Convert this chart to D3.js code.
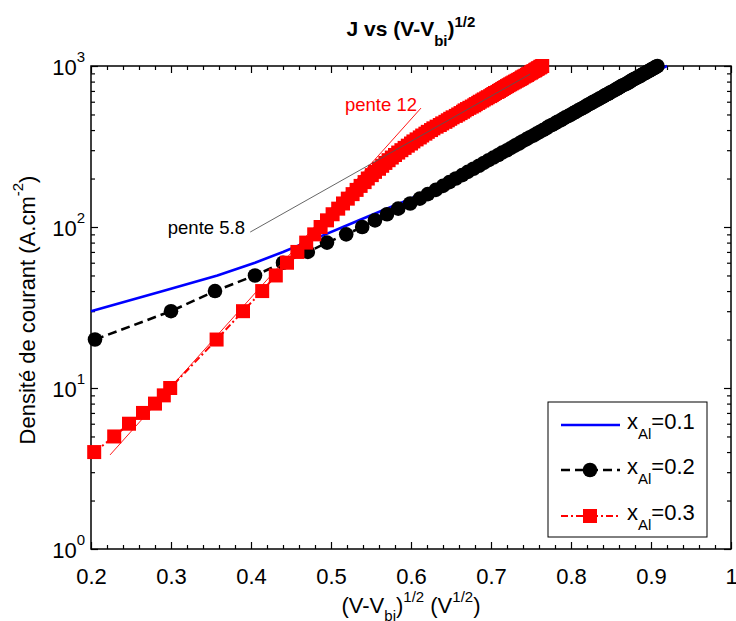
<!DOCTYPE html>
<html>
<head>
<meta charset="utf-8">
<script src="https://cdn.jsdelivr.net/npm/d3@7/dist/d3.min.js"></script>
<style>
  html, body { margin: 0; padding: 0; background: #fff; }
  svg text { font-family: "Liberation Sans", Arial, sans-serif; }
</style>
</head>
<body>
<script>
// ---------------- DATA ----------------
const xTickValues = [0.2, 0.3, 0.4, 0.5, 0.6, 0.7, 0.8, 0.9, 1.0];
const xTickLabels = ["0.2", "0.3", "0.4", "0.5", "0.6", "0.7", "0.8", "0.9", "1"];
const yTickValues = [1, 10, 100, 1000];
const yTickExponents = ["0", "1", "2", "3"];
const seriesNames = ["0.1", "0.2", "0.3"];

// x_Al = 0.1 (blue line)
const blueJ = [30, 40, 50, 60, 70, 80, 90, 100, 120, 150, 200, 300, 400, 500, 600, 700, 800, 900, 1000];
const blueX = [0.200, 0.290, 0.358, 0.405, 0.440, 0.468, 0.493, 0.515, 0.553, 0.600, 0.650, 0.716, 0.764, 0.801, 0.831, 0.856, 0.879, 0.900, 0.920];

// x_Al = 0.2 (black circles)
const blackJ = [20, 30, 40, 50, 60, 70, 80, 90, 100, 110, 120, 130, 140,
  150, 160, 170, 180, 190, 200, 210, 220, 230, 240, 250, 260, 270, 280, 290,
  300, 310, 320, 330, 340, 350, 360, 370, 380, 390, 400, 410, 420, 430, 440,
  450, 460, 470, 480, 490, 500, 510, 520, 530, 540, 550, 560, 570, 580, 590,
  600, 610, 620, 630, 640, 650, 660, 670, 680, 690, 700, 710, 720, 730, 740,
  750, 760, 770, 780, 790, 800, 810, 820, 830, 840, 850, 860, 870, 880, 890,
  900, 910, 920, 930, 940, 950, 960, 970, 980, 990, 1000];
const blackX = [0.205, 0.300, 0.355, 0.405, 0.440, 0.471, 0.495, 0.519, 0.539, 0.555, 0.570, 0.584, 0.599,
  0.611, 0.621, 0.631, 0.640, 0.648, 0.656, 0.664, 0.671, 0.678, 0.685, 0.691, 0.697, 0.703, 0.709, 0.714,
  0.720, 0.725, 0.730, 0.735, 0.739, 0.744, 0.748, 0.753, 0.757, 0.761, 0.765, 0.769, 0.772, 0.776, 0.780,
  0.783, 0.787, 0.790, 0.793, 0.797, 0.800, 0.803, 0.806, 0.809, 0.812, 0.815, 0.818, 0.820, 0.823, 0.826,
  0.828, 0.831, 0.834, 0.836, 0.839, 0.841, 0.843, 0.846, 0.848, 0.850, 0.853, 0.855, 0.857, 0.859, 0.861,
  0.863, 0.865, 0.868, 0.870, 0.872, 0.874, 0.875, 0.877, 0.879, 0.881, 0.883, 0.885, 0.887, 0.888, 0.890,
  0.892, 0.894, 0.895, 0.897, 0.899, 0.900, 0.902, 0.904, 0.905, 0.907, 0.908];

// x_Al = 0.3 (red squares)
const redJ = [4, 5, 6, 7, 8, 9, 10, 20, 30, 40, 50, 60, 70, 80, 90, 100, 110, 120, 130, 140,
  150, 160, 170, 180, 190, 200, 210, 220, 230, 240, 250, 260, 270, 280, 290,
  300, 310, 320, 330, 340, 350, 360, 370, 380, 390, 400, 410, 420, 430, 440,
  450, 460, 470, 480, 490, 500, 510, 520, 530, 540, 550, 560, 570, 580, 590,
  600, 610, 620, 630, 640, 650, 660, 670, 680, 690, 700, 710, 720, 730, 740,
  750, 760, 770, 780, 790, 800, 810, 820, 830, 840, 850, 860, 870, 880, 890,
  900, 910, 920, 930, 940, 950, 960, 970, 980, 990, 1000];
const redX = [0.204, 0.229, 0.2475, 0.265, 0.280, 0.291, 0.299, 0.357, 0.390, 0.414, 0.431, 0.445, 0.458, 0.469, 0.479, 0.487, 0.495, 0.502, 0.509, 0.515,
  0.521, 0.527, 0.532, 0.537, 0.542, 0.546, 0.551, 0.555, 0.560, 0.564, 0.568, 0.572, 0.576, 0.580, 0.584,
  0.588, 0.592, 0.596, 0.600, 0.603, 0.607, 0.611, 0.614, 0.618, 0.621, 0.625, 0.628, 0.632, 0.636, 0.639,
  0.643, 0.646, 0.649, 0.652, 0.656, 0.659, 0.662, 0.665, 0.667, 0.670, 0.673, 0.676, 0.679, 0.681, 0.684,
  0.686, 0.689, 0.691, 0.694, 0.696, 0.699, 0.701, 0.703, 0.705, 0.708, 0.710, 0.712, 0.714, 0.716, 0.718,
  0.720, 0.722, 0.724, 0.726, 0.728, 0.730, 0.732, 0.734, 0.736, 0.738, 0.739, 0.741, 0.743, 0.745, 0.746,
  0.748, 0.750, 0.751, 0.753, 0.755, 0.756, 0.758, 0.759, 0.761, 0.762, 0.764];

// fit lines ("pente")
const fitGrayX = [0.399, 0.749];
const fitGrayJ = [93, 891];
const fitRedX = [0.2238, 0.6125];
const fitRedJ = [3.84, 548];
const annoGray = { text: "pente 5.8", x: 0.296, J: 91 };
const annoRed = { text: "pente 12", x: 0.5175, J: 525 };

// ---------------- CHART ----------------
const W = 736, H = 621;
const L = 91, R = 731, T = 66, B = 549;
const FONT = 22;

const svg = d3.select("body").append("svg").attr("width", W).attr("height", H);
svg.append("rect").attr("width", W).attr("height", H).attr("fill", "#fff");

const x = d3.scaleLinear().domain([0.2, 1.0]).range([L, R]);
const y = d3.scaleLog().domain([1, 1000]).range([B, T]);

const zip = (xs, ys) => xs.map((v, i) => [v, ys[i]]);
const blue = zip(blueX, blueJ), black = zip(blackX, blackJ), red = zip(redX, redJ);

const line = d3.line().x(d => x(d[0])).y(d => y(d[1]));

// minor tick values
const yMinor = [];
[1, 10, 100].forEach(dec => { for (let k = 2; k <= 9; k++) yMinor.push(dec * k); });
const xMinorVals = [];
for (let k = 0; k < 40; k++) { const v = +(0.2 + 0.02 * k).toFixed(2); if (Math.round(v * 100) % 10 !== 0) xMinorVals.push(v); }

function styleAxis(g) {
  g.select(".domain").remove();
  g.selectAll(".tick line").attr("stroke", "#000").attr("stroke-width", 1.2);
}

// minor ticks
svg.append("g").attr("transform", `translate(0,${B})`)
  .call(d3.axisBottom(x).tickValues(xMinorVals).tickSize(-4).tickSizeOuter(0).tickFormat("")).call(styleAxis);
svg.append("g").attr("transform", `translate(0,${T})`)
  .call(d3.axisTop(x).tickValues(xMinorVals).tickSize(-4).tickSizeOuter(0).tickFormat("")).call(styleAxis);
svg.append("g").attr("transform", `translate(${L},0)`)
  .call(d3.axisLeft(y).tickValues(yMinor).tickSize(-4).tickSizeOuter(0).tickFormat("")).call(styleAxis);
svg.append("g").attr("transform", `translate(${R},0)`)
  .call(d3.axisRight(y).tickValues(yMinor).tickSize(-4).tickSizeOuter(0).tickFormat("")).call(styleAxis);

// major ticks
const gx = svg.append("g").attr("transform", `translate(0,${B})`)
  .call(d3.axisBottom(x).tickValues(xTickValues).tickSize(-7).tickSizeOuter(0).tickPadding(19)
    .tickFormat((d, i) => xTickLabels[i])).call(styleAxis);
gx.selectAll("text").attr("font-size", FONT).attr("fill", "#000").attr("font-family", null);
svg.append("g").attr("transform", `translate(0,${T})`)
  .call(d3.axisTop(x).tickValues(xTickValues).tickSize(-7).tickSizeOuter(0).tickFormat("")).call(styleAxis);
const gy = svg.append("g").attr("transform", `translate(${L},0)`)
  .call(d3.axisLeft(y).tickValues(yTickValues).tickSize(-7).tickSizeOuter(0).tickPadding(6)
    .tickFormat(() => "")).call(styleAxis);
gy.selectAll(".tick text").each(function (d, i) {
  const t = d3.select(this).attr("font-size", FONT).attr("fill", "#000").attr("font-family", null).attr("dy", "0.38em");
  t.append("tspan").text("10");
  t.append("tspan").attr("font-size", 15).attr("dy", -13).text(yTickExponents[i]);
});
svg.append("g").attr("transform", `translate(${R},0)`)
  .call(d3.axisRight(y).tickValues(yTickValues).tickSize(-7).tickSizeOuter(0).tickFormat("")).call(styleAxis);

// frame
svg.append("rect").attr("x", L).attr("y", T).attr("width", R - L).attr("height", B - T)
  .attr("fill", "none").attr("stroke", "#000").attr("stroke-width", 1.5);

// series
svg.append("path").datum(blue).attr("d", line).attr("fill", "none").attr("stroke", "#0000ff").attr("stroke-width", 2.6);

svg.append("path").datum(black).attr("d", line).attr("fill", "none").attr("stroke", "#000")
  .attr("stroke-width", 2.6).attr("stroke-dasharray", "9,5");
svg.append("g").selectAll("circle").data(black).join("circle")
  .attr("cx", d => x(d[0])).attr("cy", d => y(d[1])).attr("r", 7.3).attr("fill", "#000");

svg.append("path").datum(red).attr("d", line).attr("fill", "none").attr("stroke", "#ff0000")
  .attr("stroke-width", 2).attr("stroke-dasharray", "7,3,2,3");
const S = 14;
svg.append("g").selectAll("rect").data(red).join("rect")
  .attr("x", d => x(d[0]) - S / 2).attr("y", d => y(d[1]) - S / 2).attr("width", S).attr("height", S).attr("fill", "#ff0000");

// fit lines
svg.append("path").datum(zip(fitGrayX, fitGrayJ)).attr("d", line).attr("fill", "none").attr("stroke", "#555").attr("stroke-width", 0.9);
svg.append("path").datum(zip(fitRedX, fitRedJ)).attr("d", line).attr("fill", "none").attr("stroke", "#ff0000").attr("stroke-width", 0.9);

svg.append("text").attr("x", x(annoGray.x)).attr("y", y(annoGray.J)).attr("font-size", 18.5).attr("fill", "#000").text(annoGray.text);
svg.append("text").attr("x", x(annoRed.x)).attr("y", y(annoRed.J)).attr("font-size", 18.5).attr("fill", "#ff0000").text(annoRed.text);

// title
const title = svg.append("text").attr("x", (L + R) / 2).attr("y", 36).attr("text-anchor", "middle")
  .attr("font-size", 21).attr("font-weight", "bold").attr("fill", "#000");
title.append("tspan").text("J vs (V-V");
title.append("tspan").attr("font-size", 15).attr("dy", 10).text("bi");
title.append("tspan").attr("dy", -10).text(")");
title.append("tspan").attr("font-size", 15).attr("dy", -9).text("1/2");

// x label
const xl = svg.append("text").attr("x", (L + R) / 2).attr("y", 613).attr("text-anchor", "middle")
  .attr("font-size", FONT).attr("fill", "#000");
xl.append("tspan").text("(V-V");
xl.append("tspan").attr("font-size", 15).attr("dy", 8).text("bi");
xl.append("tspan").attr("dy", -8).text(")");
xl.append("tspan").attr("font-size", 15).attr("dy", -11).text("1/2");
xl.append("tspan").attr("dy", 11).text(" (V");
xl.append("tspan").attr("font-size", 15).attr("dy", -11).text("1/2");
xl.append("tspan").attr("dy", 11).text(")");

// y label
const yl = svg.append("text").attr("transform", "translate(35,310) rotate(-90)").attr("text-anchor", "middle")
  .attr("font-size", FONT).attr("fill", "#000");
yl.append("tspan").text("Densité de courant (A.cm");
yl.append("tspan").attr("font-size", 15).attr("dy", -12).text("-2");
yl.append("tspan").attr("dy", 12).text(")");

// legend
const lg = svg.append("g");
lg.append("rect").attr("x", 548).attr("y", 402).attr("width", 159).attr("height", 135)
  .attr("fill", "#fff").attr("stroke", "#000").attr("stroke-width", 1);
const legendRows = [
  { name: seriesNames[0], color: "#0000ff", dash: null, w: 2.6, marker: null, yy: 425 },
  { name: seriesNames[1], color: "#000", dash: "9,5", w: 2.6, marker: "circle", yy: 470 },
  { name: seriesNames[2], color: "#ff0000", dash: "7,3,2,3", w: 2, marker: "square", yy: 516 }
];
legendRows.forEach(r => {
  lg.append("line").attr("x1", 561).attr("x2", 620).attr("y1", r.yy).attr("y2", r.yy)
    .attr("stroke", r.color).attr("stroke-width", r.w).attr("stroke-dasharray", r.dash);
  if (r.marker === "circle") lg.append("circle").attr("cx", 590).attr("cy", r.yy).attr("r", 7.3).attr("fill", r.color);
  if (r.marker === "square") lg.append("rect").attr("x", 590 - S / 2).attr("y", r.yy - S / 2).attr("width", S).attr("height", S).attr("fill", r.color);
  const t = lg.append("text").attr("x", 627).attr("y", r.yy + 4).attr("font-size", FONT).attr("fill", "#000");
  t.append("tspan").text("x");
  t.append("tspan").attr("font-size", 15).attr("dy", 10).text("Al");
  t.append("tspan").attr("dy", -10).text("=" + r.name);
});
</script>
</body>
</html>
